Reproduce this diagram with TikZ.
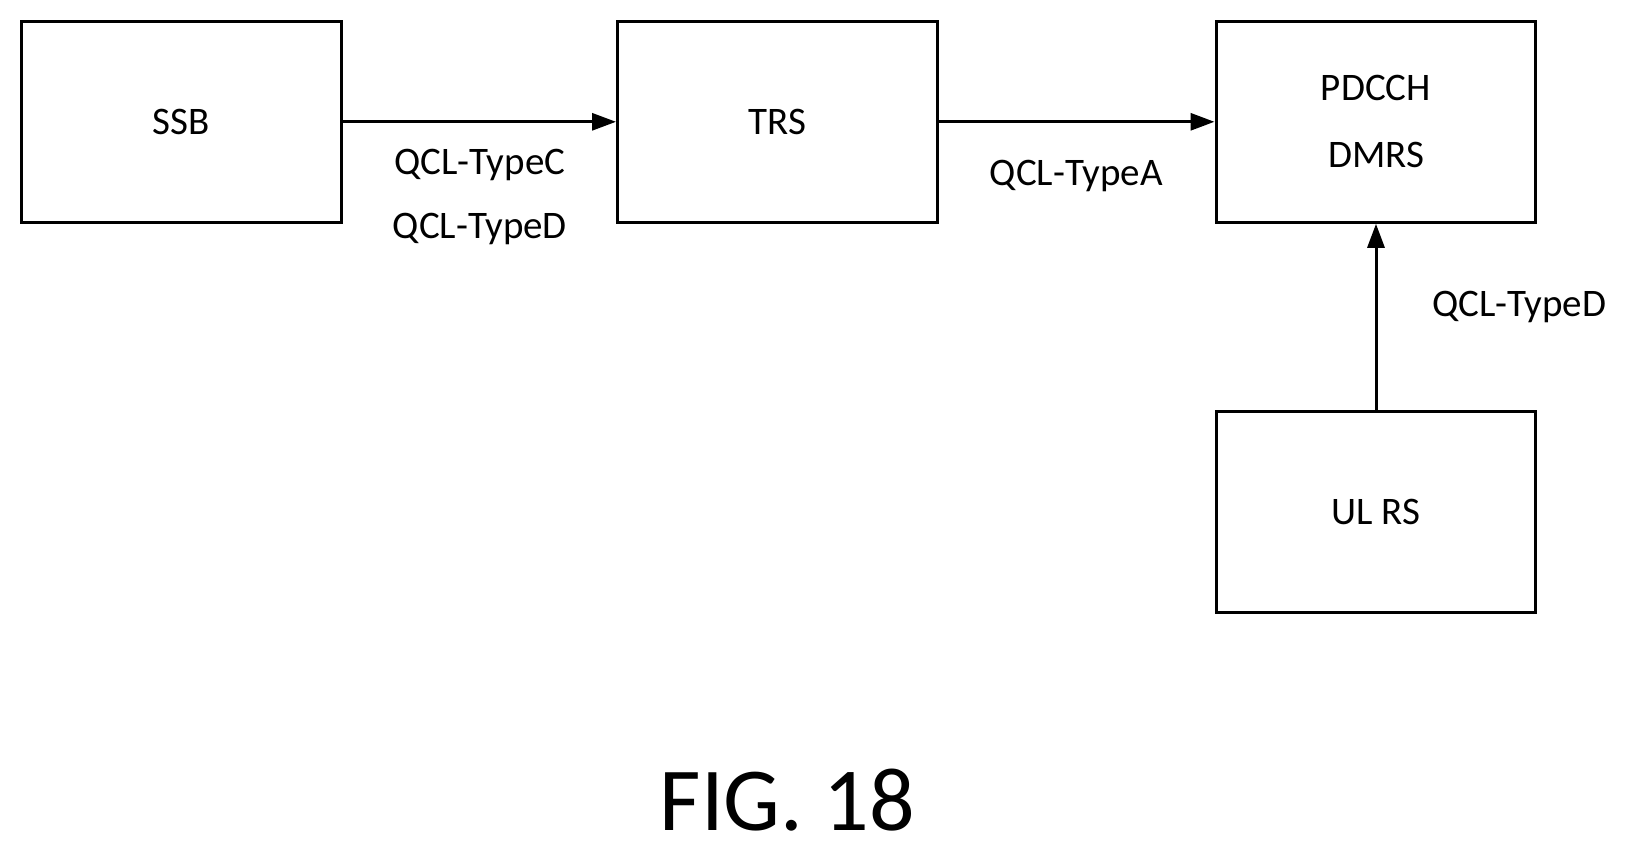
\documentclass[tikz,border=0pt]{standalone}
\usepackage{fontspec}
\setmainfont{Carlito}
\usetikzlibrary{arrows.meta}
\begin{document}
\begin{tikzpicture}[x=1.05pt,y=-1.05pt,
  box/.style={draw,line width=3pt,minimum width=320pt,minimum height=201pt,inner sep=0pt,font=\fontsize{39}{45}\selectfont,align=center},
  lab/.style={font=\fontsize{39}{45}\selectfont},
  arr/.style={line width=3pt,-{Triangle[length=24pt,width=17pt]}}]
\useasboundingbox (0,0) rectangle (1561,811);
\node[box] (ssb) at (172.5,116) {SSB};
\node[box] (trs) at (740.5,116) {TRS};
\node[box] (pd) at (1310.5,116) {PDCCH\\[22pt]DMRS};
\node[box] (ul) at (1310.5,488) {UL RS};
\draw[arr] (ssb) -- (trs);
\draw[arr] (trs) -- (pd);
\draw[arr] (ul) -- (pd);
\node[lab] (l1) at (457,157) {QCL-TypeC};
\node[lab] (l2) at (457,218) {QCL-TypeD};
\node[lab] (l3) at (1025,168) {QCL-TypeA};
\node[lab] (l4) at (1447,292) {QCL-TypeD};
\node[font=\fontsize{90}{96}\selectfont] (fig) at (750,762) {FIG. 18};
\end{tikzpicture}
\end{document}
